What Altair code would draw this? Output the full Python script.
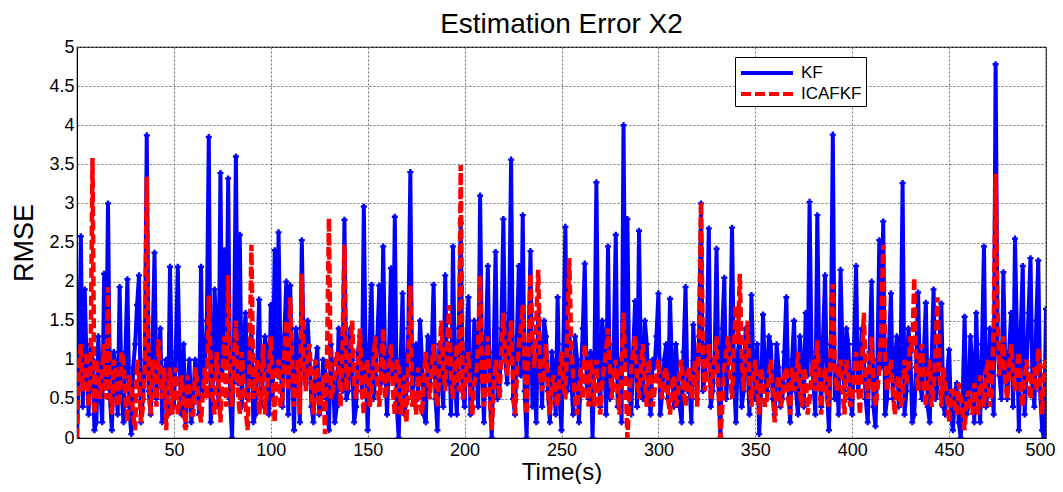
import altair as alt
import pandas as pd

# time axis (s), one sample per second
t = list(range(0, 501))

# KF estimation error (blue, solid with markers), even seconds 0..500
kf_even = [
    0.0, 2.58, 1.9, 0.3, 1.0, 0.2, 0.6, 2.1, 3.0, 0.1,
    0.8, 1.93, 0.2, 2.03, 0.05, 1.2, 2.08, 0.5, 3.87, 0.3,
    2.37, 0.9, 0.2, 1.0, 2.19, 0.4, 2.19, 0.3, 0.15, 1.0,
    0.5, 0.8, 2.19, 0.9, 3.85, 0.6, 1.3, 3.39, 2.4, 3.32,
    0.0, 3.6, 2.6, 1.2, 0.5, 1.4, 0.3, 1.77, 0.8, 1.1,
    1.7, 2.4, 2.63, 0.4, 2.0, 1.95, 0.1, 1.1, 2.53, 0.7,
    1.0, 0.2, 1.15, 0.5, 0.9, 0.1, 0.8, 0.4, 1.2, 2.79,
    0.6, 1.0, 0.4, 1.3, 2.96, 0.1, 1.96, 0.8, 1.95, 2.45,
    0.3, 2.17, 2.83, 0.0, 1.85, 0.6, 3.4, 0.9, 0.5, 1.0,
    0.2, 0.7, 1.96, 0.1, 0.9, 2.08, 1.2, 2.45, 0.3, 2.75,
    0.4, 1.8, 0.5, 1.0, 3.1, 0.2, 2.2, 0.0, 2.38, 0.6,
    2.8, 0.7, 3.56, 0.3, 2.2, 2.85, 0.0, 2.39, 0.9, 1.6,
    0.4, 1.3, 0.2, 0.8, 1.8, 0.1, 2.7, 1.4, 0.3, 1.0,
    0.8, 2.23, 0.5, 0.0, 3.27, 0.4, 1.2, 2.45, 0.6, 2.6,
    1.0, 4.0, 2.8, 0.3, 1.75, 2.65, 0.5, 1.2, 0.3, 0.9,
    1.85, 0.6, 1.2, 1.78, 0.4, 0.8, 0.2, 1.93, 0.7, 1.45,
    0.5, 3.0, 0.8, 2.68, 0.6, 2.42, 0.0, 2.05, 1.0, 2.69,
    0.2, 1.3, 0.6, 1.0, 1.83, 0.5, 0.05, 1.58, 0.6, 1.2,
    0.3, 0.9, 0.5, 1.8, 0.2, 1.5, 0.3, 0.9, 1.6, 3.02,
    0.7, 2.85, 0.4, 2.08, 0.1, 3.88, 0.9, 2.15, 0.6, 1.2,
    0.3, 2.2, 0.8, 1.0, 0.2, 2.0, 0.15, 2.53, 2.77, 0.5,
    1.85, 0.9, 0.4, 3.26, 0.6, 1.1, 0.3, 1.86, 0.5, 1.73,
    0.2, 1.9, 0.6, 1.72, 0.3, 1.13, 0.1, 0.7, 0.0, 1.55,
    0.4, 0.9, 1.6, 0.2, 2.45, 0.6, 1.0, 4.78, 0.8, 2.12,
    0.5, 1.6, 2.55, 0.1, 2.2, 0.9, 2.3, 0.4, 2.27, 0.1,
    1.65,
]
# KF, odd seconds 1..499
kf_odd = [
    1.0, 0.4, 0.9, 1.2, 0.1, 1.3, 0.2, 0.7, 0.5, 1.1,
    0.3, 0.6, 1.1, 0.4, 0.9, 1.7, 0.2, 1.0, 0.6, 1.2,
    0.5, 1.4, 0.8, 0.3, 0.7, 1.1, 0.9, 1.2, 0.6, 0.2,
    1.0, 0.3, 0.6, 1.5, 0.2, 1.9, 0.4, 0.8, 0.9, 0.5,
    1.2, 0.7, 0.4, 1.6, 0.9, 0.2, 1.0, 0.4, 1.3, 0.3,
    0.5, 0.8, 1.0, 1.3, 0.3, 0.9, 1.4, 0.2, 1.0, 1.5,
    0.4, 0.9, 0.3, 1.0, 0.5, 1.2, 0.2, 1.4, 0.6, 0.5,
    1.4, 0.2, 1.1, 0.6, 0.9, 1.2, 0.5, 1.3, 0.7, 0.9,
    1.1, 0.8, 0.4, 1.0, 0.3, 1.4, 0.5, 1.2, 1.5, 0.3,
    1.3, 1.1, 0.5, 1.2, 0.4, 0.7, 0.3, 0.8, 1.4, 0.6,
    1.2, 0.3, 1.5, 0.4, 0.9, 1.3, 0.6, 1.1, 0.5, 1.4,
    1.0, 1.6, 0.5, 1.3, 0.8, 0.6, 1.2, 0.4, 0.2, 1.1,
    1.5, 0.6, 1.1, 0.3, 0.5, 1.2, 0.6, 0.8, 1.3, 0.2,
    1.4, 0.7, 1.1, 1.0, 0.9, 1.5, 0.3, 0.5, 1.2, 0.4,
    0.2, 0.9, 0.6, 1.1, 0.4, 0.8, 1.5, 0.6, 1.0, 1.3,
    0.3, 1.0, 0.5, 0.9, 1.2, 0.4, 1.1, 0.6, 0.2, 0.9,
    1.3, 0.6, 1.2, 0.4, 1.0, 0.7, 1.4, 0.5, 1.1, 0.8,
    1.1, 0.4, 1.4, 0.3, 0.9, 1.2, 0.6, 0.8, 1.3, 0.5,
    1.2, 0.4, 1.1, 0.7, 1.0, 0.6, 1.3, 0.4, 0.8, 1.1,
    0.3, 1.0, 1.3, 0.6, 1.2, 0.5, 0.3, 1.1, 1.4, 0.5,
    1.2, 0.6, 1.4, 0.5, 1.1, 0.4, 1.0, 0.9, 0.3, 1.2,
    0.5, 1.3, 1.0, 0.3, 1.4, 0.2, 0.9, 0.7, 1.1, 0.4,
    1.0, 0.5, 1.2, 0.4, 0.8, 0.3, 0.6, 0.2, 0.5, 0.3,
    1.3, 0.2, 0.7, 1.2, 0.4, 1.4, 0.3, 1.2, 0.5, 0.9,
    1.1, 0.4, 1.3, 1.4, 0.3, 1.6, 0.7, 1.5, 0.6, 0.0,
]

# ICAFKF estimation error (red, dashed), even seconds 0..500
icafkf_even = [
    0.0, 1.2, 0.8, 0.4, 3.58, 1.0, 0.5, 1.2, 1.93, 0.3,
    0.9, 0.5, 1.0, 0.2, 0.6, 0.1, 0.8, 0.4, 3.34, 0.3,
    0.8, 1.26, 0.5, 0.1, 0.9, 0.6, 0.3, 0.8, 0.1, 0.6,
    0.3, 0.7, 0.2, 0.9, 1.82, 0.5, 1.1, 0.2, 1.3, 2.08,
    0.4, 1.5, 0.3, 0.7, 0.1, 2.47, 0.8, 0.3, 1.2, 0.6,
    1.3, 0.2, 1.0, 0.5, 1.5, 1.8, 0.4, 1.0, 2.1, 0.6,
    1.2, 0.3, 0.9, 0.5, 0.05, 2.81, 0.6, 1.1, 0.4, 2.47,
    0.8, 1.5, 0.5, 1.4, 0.3, 1.0, 0.6, 1.3, 0.4, 1.4,
    0.7, 1.2, 0.3, 0.9, 0.5, 0.2, 1.95, 0.6, 0.9, 0.3,
    1.1, 0.5, 1.2, 0.4, 1.5, 0.6, 1.7, 0.5, 1.2, 3.49,
    0.6, 1.1, 0.3, 0.8, 2.08, 0.4, 1.3, 0.1, 1.0, 0.5,
    1.6, 0.8, 1.5, 0.3, 1.2, 1.7, 0.3, 2.1, 0.9, 2.15,
    0.6, 1.2, 0.3, 0.8, 0.4, 1.1, 0.5, 2.3, 0.8, 0.3,
    0.9, 1.2, 0.4, 0.8, 1.0, 0.3, 0.9, 1.4, 0.5, 1.0,
    0.3, 1.6, 0.0, 0.9, 1.3, 0.5, 1.2, 0.4, 0.8, 0.6,
    1.0, 0.5, 0.9, 0.3, 0.8, 0.5, 1.0, 0.4, 0.9, 0.7,
    0.4, 3.02, 0.6, 1.2, 0.8, 1.3, 0.0, 0.9, 1.3, 0.5,
    1.7, 2.1, 0.6, 1.5, 0.4, 1.0, 0.3, 0.7, 0.5, 1.0,
    0.2, 0.8, 0.5, 0.9, 0.3, 0.6, 1.1, 0.4, 0.8, 0.5,
    1.0, 1.25, 0.3, 0.9, 0.4, 1.97, 0.6, 1.0, 0.3, 0.8,
    0.5, 1.1, 0.3, 1.6, 0.5, 1.3, 0.4, 0.9, 2.47, 0.6,
    1.0, 0.3, 0.8, 0.5, 0.7, 1.3, 2.05, 0.6, 1.2, 0.4,
    1.0, 0.6, 1.8, 0.4, 0.7, 0.2, 0.6, 0.3, 0.5, 0.1,
    0.6, 0.3, 0.5, 0.8, 0.4, 1.0, 0.6, 3.38, 0.8, 1.3,
    0.5, 1.2, 0.6, 1.1, 0.4, 1.0, 0.5, 0.9, 1.15, 0.3,
    1.0,
]
# ICAFKF, odd seconds 1..499
icafkf_odd = [
    0.9, 0.6, 1.1, 0.9, 0.3, 0.8, 0.9, 0.5, 0.6, 1.0,
    0.4, 1.1, 0.5, 0.8, 0.3, 1.0, 0.2, 0.9, 0.7, 1.0,
    0.4, 0.7, 0.9, 0.5, 0.3, 0.9, 0.5, 0.4, 0.8, 0.3,
    0.9, 0.4, 0.6, 0.5, 0.9, 0.3, 0.7, 0.8, 0.4, 0.9,
    1.0, 0.6, 1.1, 0.4, 0.9, 0.5, 1.0, 0.6, 0.3, 0.9,
    0.7, 0.9, 0.4, 1.1, 0.6, 1.0, 0.7, 0.3, 0.9, 1.1,
    0.6, 1.0, 0.3, 0.8, 1.0, 0.5, 0.8, 0.9, 1.2, 0.6,
    1.1, 0.7, 0.9, 0.6, 0.9, 0.4, 1.0, 0.7, 0.9, 0.5,
    0.9, 0.6, 1.0, 0.3, 0.8, 1.0, 0.4, 0.3, 0.5, 0.8,
    0.7, 0.9, 0.6, 1.0, 0.9, 1.2, 0.8, 0.9, 0.6, 0.5,
    0.9, 0.6, 0.7, 1.2, 0.8, 0.9, 0.5, 0.6, 0.8, 1.1,
    1.0, 1.2, 0.7, 0.8, 1.4, 0.9, 1.1, 1.3, 1.5, 0.8,
    0.9, 0.6, 0.7, 0.5, 0.8, 0.7, 1.4, 1.2, 0.5, 0.7,
    0.5, 0.8, 1.0, 0.4, 0.6, 0.7, 1.1, 0.9, 0.8, 0.6,
    1.0, 0.8, 0.5, 1.1, 0.7, 0.9, 0.7, 1.0, 0.4, 0.8,
    0.6, 0.8, 0.5, 0.7, 0.4, 0.9, 0.6, 0.8, 0.5, 1.0,
    1.4, 1.0, 0.9, 0.5, 1.0, 0.6, 0.4, 1.1, 0.8, 1.2,
    1.2, 1.0, 1.1, 0.7, 0.8, 0.6, 0.9, 0.4, 0.8, 0.6,
    0.6, 0.4, 0.8, 0.5, 0.9, 0.7, 0.6, 0.9, 0.3, 0.8,
    0.6, 0.8, 0.7, 0.5, 1.2, 0.9, 0.8, 0.6, 1.0, 0.4,
    0.8, 0.7, 0.9, 0.8, 0.9, 0.7, 0.6, 1.4, 1.0, 0.9,
    0.6, 0.7, 0.4, 1.0, 0.9, 1.1, 0.9, 1.0, 0.7, 0.8,
    0.4, 1.1, 0.9, 0.9, 0.5, 0.6, 0.4, 0.7, 0.3, 0.5,
    0.4, 0.7, 0.3, 0.6, 0.8, 0.4, 1.4, 1.6, 1.0, 0.7,
    0.9, 0.8, 0.9, 0.6, 0.8, 0.7, 0.8, 0.6, 0.7, 0.9,
]

series_names = ["KF", "ICAFKF"]
series_colors = ["#0000ff", "#ff0000"]
x_ticks = [50, 100, 150, 200, 250, 300, 350, 400, 450, 500]
y_ticks = [0, 0.5, 1, 1.5, 2, 2.5, 3, 3.5, 4, 4.5, 5]


def merge(even, odd):
    out = []
    for i, v in enumerate(even):
        out.append(v)
        if i < len(odd):
            out.append(odd[i])
    return out


kf = merge(kf_even, kf_odd)
icafkf = merge(icafkf_even, icafkf_odd)

df = pd.concat([
    pd.DataFrame({"t": t, "value": kf, "series": "KF"}),
    pd.DataFrame({"t": t, "value": icafkf, "series": "ICAFKF"}),
], ignore_index=True)

FONT = "Liberation Sans"

legend = alt.Legend(
    title=None, orient="none", legendX=658, legendY=10,
    fillColor="white", strokeColor="black", padding=4,
    labelFontSize=17, labelFont=FONT, labelColor="black", labelOffset=38,
    symbolType="M-1,0H4.2", symbolSize=400, symbolStrokeWidth=4, rowPadding=1,
)

color = alt.Color("series:N", scale=alt.Scale(domain=series_names, range=series_colors), legend=legend)
dash = alt.StrokeDash("series:N", scale=alt.Scale(domain=series_names, range=[[1, 0], [10, 4]]), legend=legend)

base = alt.Chart(df).encode(
    x=alt.X("t:Q", scale=alt.Scale(domain=[0, 500], nice=False, zero=False),
            axis=alt.Axis(values=x_ticks, format="d", title="Time(s)",
                          labelFlush=True, labelFlushOffset=9,
                          labelPadding=3, titlePadding=1, titleFontSize=24)),
    y=alt.Y("value:Q", scale=alt.Scale(domain=[0, 5], nice=False),
            axis=alt.Axis(values=y_ticks, format=".1~f", title="RMSE",
                          labelPadding=3, titlePadding=10, titleFontSize=27)),
)

blue_line = base.transform_filter(alt.datum.series == "KF").mark_line(
    strokeWidth=4, clip=True).encode(color=color, strokeDash=dash)
blue_pts = base.transform_filter(alt.datum.series == "KF").mark_point(
    shape="cross", filled=True, size=36, color="#0000ff", opacity=1, clip=True)
red_line = base.transform_filter(alt.datum.series == "ICAFKF").mark_line(
    strokeWidth=4.5, strokeCap="butt", clip=True).encode(color=color, strokeDash=dash)

chart = alt.layer(blue_line, blue_pts, red_line).properties(
    width=969, height=391,
    autosize=alt.AutoSizeParams(type="none"),
    padding={"left": 69, "top": 39, "right": 9, "bottom": 46},
    title=alt.TitleParams("Estimation Error X2", fontSize=28, font=FONT,
                          fontWeight="normal", color="black", offset=-1),
).configure(font=FONT).configure_view(
    stroke="black", strokeWidth=1.2
).configure_axis(
    grid=True, gridColor="#707070", gridDash=[2, 2], gridOpacity=1, gridWidth=1,
    ticks=False, domainColor="black",
    labelFont=FONT, labelFontSize=18, labelColor="black",
    titleFont=FONT, titleFontWeight="normal", titleColor="black",
)

chart.save("out.html", embed_options={"renderer": "svg", "actions": False})
